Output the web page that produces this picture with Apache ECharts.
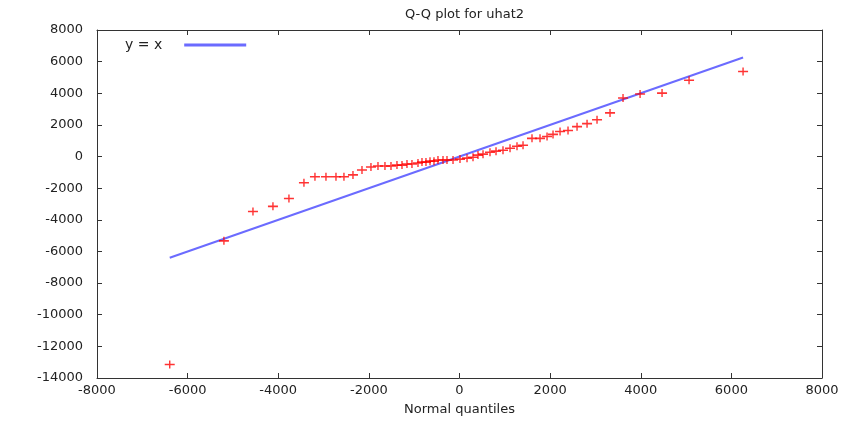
<!DOCTYPE html>
<html>
<head>
<meta charset="utf-8">
<script src="https://cdn.jsdelivr.net/npm/echarts@6/dist/echarts.min.js"></script>
<style>
 html,body{margin:0;padding:0;background:#fff;}
 #main{width:843px;height:421px;}
</style>
</head>
<body>
<div id="main"></div>
<script>
// normal quantiles (x) and sorted residuals (y)
var quantiles = [-6395, -5199, -4558, -4117, -3764, -3433, -3190, -2947, -2726, -2550,
  -2351, -2152, -1954, -1799, -1645, -1512, -1380, -1269, -1159, -1049,
  -916, -828, -740, -651, -563, -475, -364, -276, -143, 11,
  166, 298, 408, 519, 673, 806, 960, 1115, 1269, 1402,
  1600, 1777, 1932, 2064, 2219, 2395, 2594, 2815, 3035, 3322,
  3609, 3985, 4470, 5066, 6258];
var residuals = [-13150, -5330, -3470, -3150, -2650, -1660, -1280, -1280, -1280, -1280,
  -1160, -850, -660, -600, -600, -600, -540, -540, -470, -470,
  -410, -350, -350, -290, -290, -220, -220, -220, -220, -160,
  -100, -40, 90, 150, 270, 340, 400, 520, 650, 710,
  1150, 1150, 1270, 1400, 1580, 1650, 1890, 2080, 2330, 2760,
  3700, 3950, 4010, 4820, 5380];
var lineEnds = [-6395, 6258];
var xTicks = [-8000, 8000, 2000];
var yTicks = [-14000, 8000, 2000];

var points = [];
for (var i = 0; i < quantiles.length; i++) points.push([quantiles[i], residuals[i]]);
var diag = lineEnds.map(function (v) { return [v, v]; });

var myChart = echarts.init(document.getElementById('main'));
var font = 'DejaVu Sans';
var frame = { show: true, onZero: false, lineStyle: { color: '#333', width: 1 } };
var ticks = { show: true, inside: true, length: 5, lineStyle: { color: '#333' } };
var lbl = { color: '#222', fontSize: 13, fontFamily: font };
var plain = function (v) { return String(v); };

var option = {
  animation: false,
  backgroundColor: '#fff',
  title: {
    text: 'Q-Q plot for uhat2',
    left: 400, top: 3,
    textStyle: { color: '#222', fontSize: 13, fontWeight: 'normal', fontFamily: font }
  },
  legend: {
    data: ['y = x'],
    left: 120, top: 33,
    align: 'right',
    icon: 'rect',
    itemWidth: 62, itemHeight: 3,
    textStyle: { color: '#222', fontSize: 14, fontFamily: font, padding: [0, 17, 0, 0] }
  },
  grid: { left: 97, right: 21, top: 30, bottom: 38 },
  xAxis: [{
    type: 'value', min: xTicks[0], max: xTicks[1], interval: xTicks[2],
    name: 'Normal quantiles', nameLocation: 'middle', nameGap: 25,
    nameTextStyle: lbl,
    axisLine: frame, axisTick: ticks, splitLine: { show: false },
    axisLabel: Object.assign({ margin: 6, formatter: plain }, lbl)
  }, {
    type: 'value', position: 'top', min: xTicks[0], max: xTicks[1], interval: xTicks[2],
    axisLine: frame, axisTick: ticks, splitLine: { show: false }, axisLabel: { show: false }
  }],
  yAxis: [{
    type: 'value', min: yTicks[0], max: yTicks[1], interval: yTicks[2],
    axisLine: frame, axisTick: ticks, splitLine: { show: false },
    axisLabel: Object.assign({ margin: 14, formatter: plain }, lbl)
  }, {
    type: 'value', position: 'right', min: yTicks[0], max: yTicks[1], interval: yTicks[2],
    axisLine: frame, axisTick: ticks, splitLine: { show: false }, axisLabel: { show: false }
  }],
  series: [{
    name: 'uhat2',
    type: 'scatter',
    data: points,
    symbol: 'path://M0,3.2H4.3V0H5.7V3.2H10V4.8H5.7V8H4.3V4.8H0Z',
    symbolSize: [10, 8],
    itemStyle: { color: '#ff0000' },
    z: 3
  }, {
    name: 'y = x',
    type: 'line',
    data: diag,
    showSymbol: false,
    symbol: 'none',
    lineStyle: { color: '#6b6bff', width: 2 },
    itemStyle: { color: '#6b6bff' },
    z: 2
  }]
};

myChart.setOption(option);
</script>
</body>
</html>
